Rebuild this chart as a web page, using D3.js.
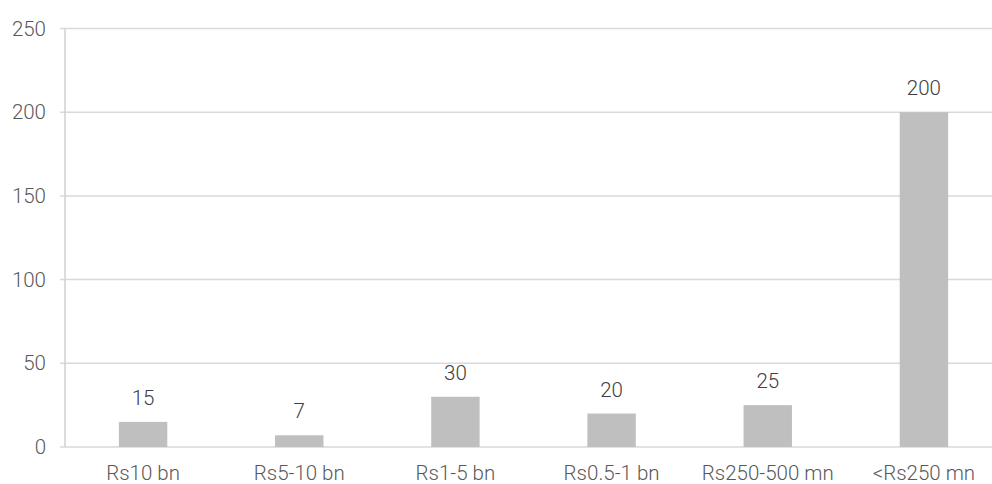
<!DOCTYPE html>
<html>
<head>
<meta charset="utf-8">
<script src="https://cdn.jsdelivr.net/npm/d3@7"></script>
<style>
  html, body { margin: 0; padding: 0; background: #fff; }
  svg text { font-family: Roboto, "Open Sans", sans-serif; font-weight: 300; }
</style>
</head>
<body>
<svg id="chart" width="992" height="484"></svg>
<script>
const categories = ["Rs10 bn", "Rs5-10 bn", "Rs1-5 bn", "Rs0.5-1 bn", "Rs250-500 mn", "<Rs250 mn"];
const values = [15, 7, 30, 20, 25, 200];
const yTicks = [0, 50, 100, 150, 200, 250];

const svg = d3.select("#chart");
const plotLeft = 65, plotRight = 992, plotTop = 28.5, plotBottom = 447;
const fontSize = 20.5;

const x = d3.scaleBand().domain(categories).range([plotLeft, 1002]).paddingInner(0.69).paddingOuter(0.345);
const y = d3.scaleLinear().domain([0, 250]).range([plotBottom, plotTop]);

// horizontal gridlines
svg.append("g").selectAll("line").data(yTicks).join("line")
  .attr("x1", plotLeft - 5).attr("x2", plotRight)
  .attr("y1", d => y(d)).attr("y2", d => y(d))
  .attr("stroke", "#d9d9d9").attr("stroke-width", 1.5);

// left axis line
svg.append("line")
  .attr("x1", plotLeft).attr("x2", plotLeft)
  .attr("y1", plotTop).attr("y2", plotBottom)
  .attr("stroke", "#d0d0d0").attr("stroke-width", 1.5);

// y tick labels
svg.append("g").selectAll("text").data(yTicks).join("text")
  .attr("x", plotLeft - 19).attr("y", d => y(d))
  .attr("dy", "0.35em").attr("text-anchor", "end")
  .attr("font-size", fontSize).attr("fill", "#595959")
  .text(d => d);

// bars
svg.append("g").selectAll("rect").data(values).join("rect")
  .attr("x", (d, i) => x(categories[i]))
  .attr("width", x.bandwidth())
  .attr("y", d => y(d))
  .attr("height", d => y(0) - y(d))
  .attr("fill", "#bfbfbf");

// value labels
svg.append("g").selectAll("text").data(values).join("text")
  .attr("x", (d, i) => x(categories[i]) + x.bandwidth() / 2)
  .attr("y", d => y(d) - 24)
  .attr("dy", "0.35em").attr("text-anchor", "middle")
  .attr("font-size", fontSize).attr("fill", "#404040")
  .text(d => d);

// category labels
svg.append("g").selectAll("text").data(categories).join("text")
  .attr("x", d => x(d) + x.bandwidth() / 2)
  .attr("y", 473)
  .attr("dy", "0.35em").attr("text-anchor", "middle")
  .attr("font-size", fontSize).attr("fill", "#595959")
  .text(d => d);
</script>
</body>
</html>
